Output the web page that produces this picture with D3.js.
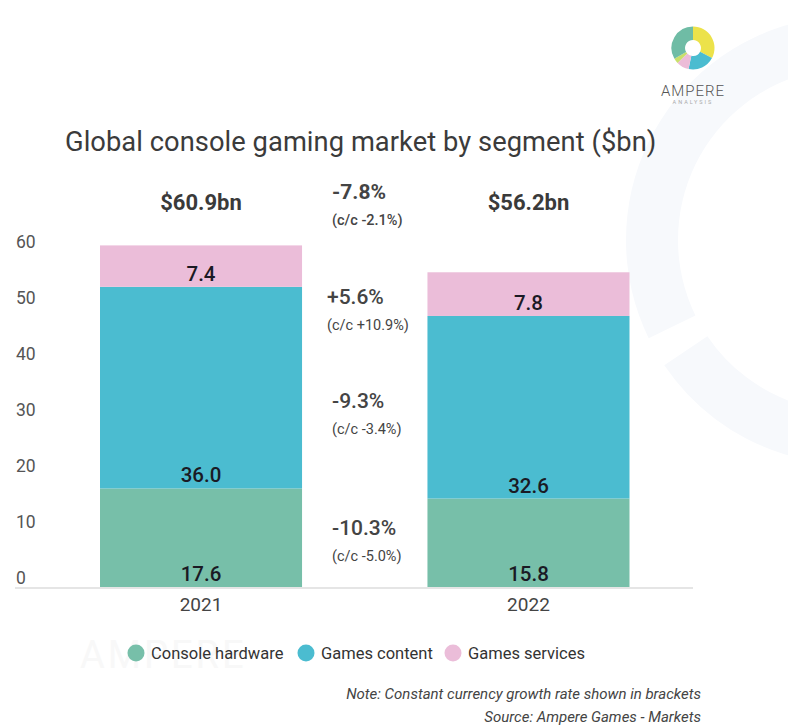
<!DOCTYPE html>
<html>
<head>
<meta charset="utf-8">
<script src="https://cdn.jsdelivr.net/npm/d3@7"></script>
<style>
  html, body { margin: 0; padding: 0; background: #ffffff; }
  svg { display: block; font-family: Roboto, "Noto Sans", Arial, sans-serif; }
</style>
</head>
<body>
<svg id="chart" width="788" height="725"></svg>
<script>
// Global console gaming market by segment, $bn
const years = ["2021", "2022"];
const segments = ["Console hardware", "Games content", "Games services"];
const hardware = [17.6, 15.8];
const content = [36.0, 32.6];
const services = [7.4, 7.8];
const totals = ["$60.9bn", "$56.2bn"];
const yTicks = [0, 10, 20, 30, 40, 50, 60];
const growthMain = ["-7.8%", "+5.6%", "-9.3%", "-10.3%"];
const growthCC = ["(c/c -2.1%)", "(c/c +10.9%)", "(c/c -3.4%)", "(c/c -5.0%)"];

const colors = ["#77bfa9", "#4bbcd0", "#ebbdd9"];

const svg = d3.select("#chart");
const deg = Math.PI / 180;

// ---- faint brand ring in the background ----
const bg = svg.append("g").attr("transform", "translate(850,240)");
const ringArc = d3.arc().innerRadius(172).outerRadius(224);
bg.append("path")
  .attr("d", ringArc({ startAngle: -12 * deg, endAngle: -116 * deg }))
  .attr("fill", "#f7f9fc");
bg.append("path")
  .attr("d", ringArc({ startAngle: -124 * deg, endAngle: -200 * deg }))
  .attr("fill", "#f7f9fc");

// faint wordmark behind the legend
svg.append("text").attr("x", 80).attr("y", 668)
  .attr("font-size", 38).attr("letter-spacing", 3).attr("fill", "#f8f8f8")
  .text("AMPERE");

// ---- logo ----
const logo = svg.append("g").attr("transform", "translate(693,48)");
const logoArc = d3.arc().innerRadius(8).outerRadius(21.5);
const logoParts = [
  { s: 0, e: 118, c: "#ece24a" },
  { s: 118, e: 192, c: "#4bbcd0" },
  { s: 192, e: 226, c: "#ecbcd8" },
  { s: 226, e: 240, c: "#c9df6a" },
  { s: 240, e: 360, c: "#6fbca5" }
];
logo.selectAll("path").data(logoParts).join("path")
  .attr("d", d => logoArc({ startAngle: d.s * deg, endAngle: d.e * deg }))
  .attr("fill", d => d.c);
svg.append("text").attr("x", 693).attr("y", 96).attr("text-anchor", "middle")
  .attr("font-size", 15).attr("font-weight", 300).attr("letter-spacing", 1)
  .attr("fill", "#555").text("AMPERE");
svg.append("text").attr("x", 693).attr("y", 104).attr("text-anchor", "middle")
  .attr("font-size", 5.5).attr("letter-spacing", 2).attr("fill", "#aaa").text("ANALYSIS");

// ---- title ----
svg.append("text").attr("x", 65).attr("y", 151)
  .attr("font-size", 27.3).attr("letter-spacing", 0.05).attr("fill", "#3b3b3b")
  .text("Global console gaming market by segment ($bn)");

// ---- scales ----
const x = d3.scaleBand().domain(years).range([100, 629.5]).paddingInner(0.383).paddingOuter(0);
const y = d3.scaleLinear().domain([0, 60]).range([587, 251]);

// ---- y labels ----
svg.append("g").selectAll("text").data(yTicks).join("text")
  .attr("x", 16).attr("y", d => y(d) - 3)
  .attr("font-size", 17.5).attr("fill", "#555")
  .text(d => d);

// ---- stacked bars ----
const rows = years.map((yr, i) => ({ year: yr, hardware: hardware[i], content: content[i], services: services[i] }));
const keys = ["hardware", "content", "services"];
const stack = d3.stack().keys(keys)(rows);

const layers = svg.append("g").selectAll("g").data(stack).join("g")
  .attr("fill", (d, i) => colors[i]);
layers.selectAll("rect").data(d => d).join("rect")
  .attr("x", d => x(d.data.year))
  .attr("width", x.bandwidth())
  .attr("y", d => y(d[1]))
  .attr("height", d => y(d[0]) - y(d[1]));

// value labels sit at the bottom of each segment
svg.append("g").selectAll("g").data(stack).join("g")
  .selectAll("text").data(d => d.map(v => ({ v, key: d.key }))).join("text")
  .attr("x", d => x(d.v.data.year) + x.bandwidth() / 2)
  .attr("y", d => y(d.v[0]) - 6)
  .attr("text-anchor", "middle")
  .attr("font-size", 20.5).attr("font-weight", 500).attr("fill", "#1a1a24")
  .text(d => d.v.data[d.key].toFixed(1));

// baseline
svg.append("line").attr("x1", 15).attr("x2", 693)
  .attr("y1", y(0) + 1).attr("y2", y(0) + 1)
  .attr("stroke", "#dddddd").attr("stroke-width", 1.5);

// x labels
svg.append("g").selectAll("text").data(years).join("text")
  .attr("x", d => x(d) + x.bandwidth() / 2).attr("y", 611)
  .attr("text-anchor", "middle").attr("font-size", 19).attr("fill", "#444")
  .text(d => d);

// totals above bars
svg.append("g").selectAll("text").data(totals).join("text")
  .attr("x", (d, i) => x(years[i]) + x.bandwidth() / 2).attr("y", 210)
  .attr("text-anchor", "middle").attr("font-size", 22).attr("font-weight", 700)
  .attr("fill", "#3a3a3a")
  .text(d => d);

// ---- growth annotations between the bars ----
const growthX = [332, 327, 332, 332];
const growthY = [199, 304, 408, 535];
const gg = svg.append("g").selectAll("g").data(growthMain).join("g");
gg.append("text")
  .attr("x", (d, i) => growthX[i]).attr("y", (d, i) => growthY[i])
  .attr("font-size", 21).attr("font-weight", (d, i) => i === 0 ? 700 : 500)
  .attr("fill", "#444")
  .text(d => d);
gg.append("text")
  .attr("x", (d, i) => growthX[i]).attr("y", (d, i) => growthY[i] + 26)
  .attr("font-size", 14.5).attr("font-weight", (d, i) => i === 0 ? 500 : 400)
  .attr("fill", "#444")
  .text((d, i) => growthCC[i]);

// ---- legend ----
const legendX = [136, 306, 453];
const lg = svg.append("g").selectAll("g").data(segments).join("g")
  .attr("transform", (d, i) => `translate(${legendX[i]},653)`);
lg.append("circle").attr("r", 8.5).attr("fill", (d, i) => colors[i]);
lg.append("text").attr("x", 15).attr("y", 5.5)
  .attr("font-size", 16.5).attr("fill", "#333")
  .text(d => d);

// ---- notes ----
svg.append("text").attr("x", 701).attr("y", 699).attr("text-anchor", "end")
  .attr("font-size", 15).attr("font-style", "italic").attr("fill", "#444")
  .text("Note: Constant currency growth rate shown in brackets");
svg.append("text").attr("x", 701).attr("y", 722).attr("text-anchor", "end")
  .attr("font-size", 15).attr("font-style", "italic").attr("fill", "#444")
  .text("Source: Ampere Games - Markets");
</script>
</body>
</html>
